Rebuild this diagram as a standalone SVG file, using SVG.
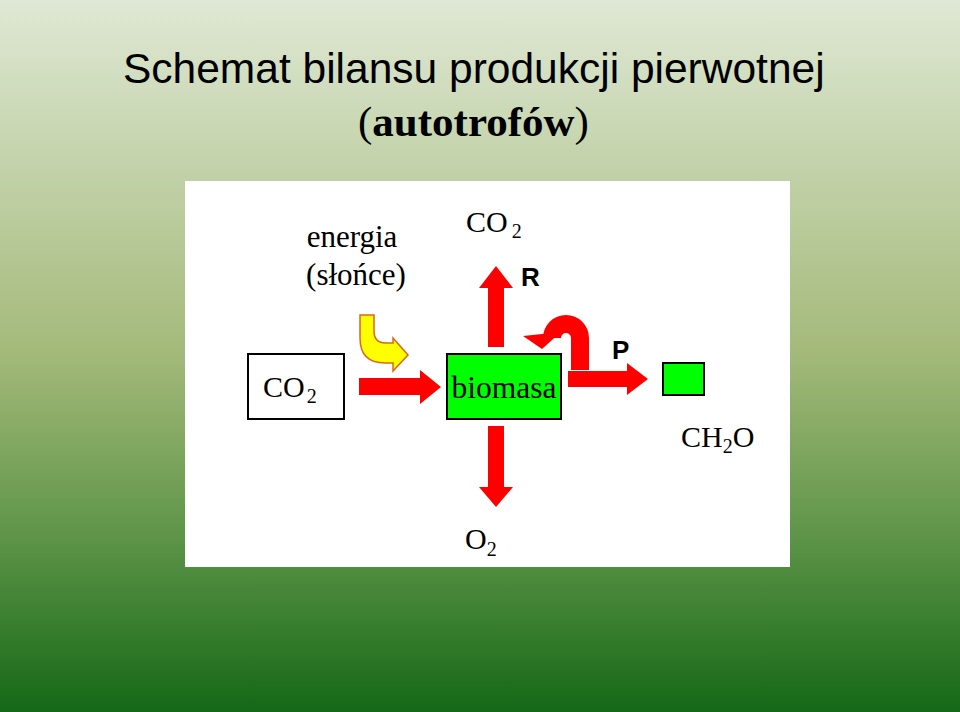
<svg xmlns="http://www.w3.org/2000/svg" width="960" height="712" viewBox="0 0 960 712">
<defs>
<linearGradient id="bg" x1="0" y1="0" x2="0" y2="1">
<stop offset="0" stop-color="#dfe8d4"/>
<stop offset="0.5" stop-color="#a3b979"/>
<stop offset="0.75" stop-color="#5f9548"/>
<stop offset="1" stop-color="#146817"/>
</linearGradient>
<style>
.ser{font-family:"Liberation Serif","Times New Roman",serif;fill:#000}
.chem{font-size:30px}
.sub{font-size:20px}
.lab{font-family:"Liberation Sans",Arial,sans-serif;font-weight:bold;font-size:26px;fill:#000}
.red{fill:#ff0000}
.box{stroke:#000;stroke-width:2}
</style>
</defs>
<rect x="0" y="0" width="960" height="712" fill="url(#bg)"/>
<text x="123" y="83" font-family="Liberation Sans, Arial, sans-serif" font-size="42.5" fill="#000">Schemat bilansu produkcji pierwotnej</text>
<text x="358" y="136" class="ser" font-size="43"><tspan>(</tspan><tspan font-weight="bold">autotrofów</tspan><tspan>)</tspan></text>
<rect x="185" y="181" width="605" height="386" fill="#fff"/>

<g id="connectors">
<polygon id="arrow-co2-in" class="red" points="359,378 420,378 420,370 441,387 420,404 420,395 359,395"/>
<path id="arrow-energy" fill="#ffff00" stroke="#d9691a" stroke-width="1.5" stroke-linejoin="miter" d="M360,315 L374,315 L374,331 Q374,343 386,343 L393,343 L393,338 L408,355 L393,371 L393,363 L385,363 Q360,363 360,338 Z"/>
<polygon id="arrow-up-R" class="red" points="488,347 488,288 479,288 496,266 513,288 504,288 504,347"/>
<polygon id="arrow-down-O2" class="red" points="488,426 504,426 504,487 513,487 496,507 479,487 488,487"/>
<polygon id="arrow-P" class="red" points="568,371 627,371 627,363 648,379 627,395 627,387 568,387"/>
<path id="arrow-uturn" d="M580,370 V338 A14,14 0 0 0 552,338" fill="none" stroke="#ff0000" stroke-width="18"/>
<polygon class="red" points="523,336 561,332 542,349"/>
</g>

<g id="node-energia">
<text x="352" y="247" class="ser" font-size="31" text-anchor="middle">energia</text>
<text x="356" y="285" class="ser" font-size="31" text-anchor="middle">(słońce)</text>
</g>
<g id="node-co2-out">
<text x="466" y="232" class="ser chem">CO<tspan class="sub" dx="4" dy="6">2</tspan></text>
</g>
<g id="label-R"><text x="521" y="286" class="lab">R</text></g>
<g id="label-P"><text x="612" y="359" class="lab">P</text></g>
<g id="node-co2">
<rect x="248" y="354" width="96" height="65" fill="#fff" class="box"/>
<text x="263" y="397" class="ser chem">CO<tspan class="sub" dx="2" dy="6">2</tspan></text>
</g>
<g id="node-biomasa">
<rect x="447" y="354" width="114" height="65" fill="#00ff00" class="box"/>
<text x="504" y="398" class="ser" font-size="31.5" text-anchor="middle">biomasa</text>
</g>
<g id="node-ch2o">
<rect x="663" y="363" width="41" height="32" fill="#00ff00" class="box"/>
<text x="681" y="447" class="ser chem">CH<tspan class="sub" dy="6">2</tspan><tspan dy="-6">O</tspan></text>
</g>
<g id="node-o2">
<text x="465" y="549" class="ser chem">O<tspan class="sub" dy="7">2</tspan></text>
</g>
</svg>
